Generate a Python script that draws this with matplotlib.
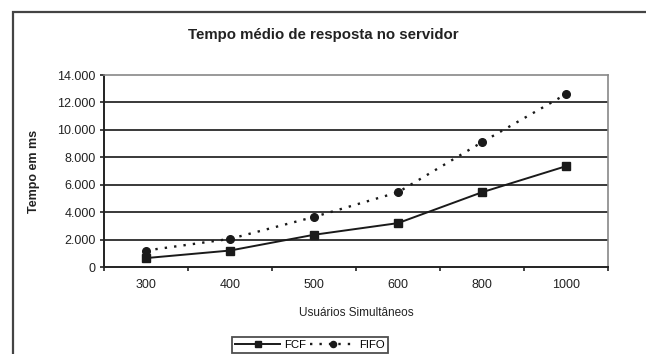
import matplotlib
matplotlib.use("Agg")
import matplotlib.pyplot as plt
from matplotlib.patches import Rectangle

plt.rcParams['font.family'] = ['Liberation Sans', 'DejaVu Sans']

categories = ["300", "400", "500", "600", "800", "1000"]
fcf = [650, 1200, 2350, 3200, 5450, 7350]
fifo = [1200, 2050, 3650, 5450, 9100, 12600]
yticks = [0, 2000, 4000, 6000, 8000, 10000, 12000, 14000]
ytick_labels = ["0", "2.000", "4.000", "6.000", "8.000", "10.000", "12.000", "14.000"]

W, H = 646, 354
fig = plt.figure(figsize=(W / 100, H / 100), dpi=100)
ax = fig.add_axes([104 / W, 1 - 267 / H, (608 - 104) / W, (267 - 75) / H])

x = list(range(len(categories)))
ax.plot(x, fcf, color='#1a1a1a', lw=1.4, marker='s', ms=5.5, label='FCF')
ax.plot(x, fifo, color='#1a1a1a', lw=1.7, ls=(0, (1, 3)), marker='o', ms=5.5, label='FIFO')

ax.set_xlim(-0.5, len(categories) - 0.5)
ax.set_ylim(0, 14000)
ax.set_yticks(yticks)
ax.set_yticklabels(ytick_labels, fontsize=9, color='#222222')
ax.set_xticks(x)
ax.set_xticklabels(categories, fontsize=9, color='#222222')
ax.tick_params(axis='x', length=0, pad=9)
ax.set_xticks([i + 0.5 for i in range(-1, len(categories))], minor=True)
ax.tick_params(axis='x', which='minor', length=3, width=1.2, color='#222222', direction='out')
ax.tick_params(axis='y', length=3, width=1.2, color='#222222', direction='out', pad=3)

for y in yticks[1:-1]:
    ax.axhline(y, color='#2a2a2a', lw=1.3, zorder=0)

for s in ['top', 'right']:
    ax.spines[s].set_color('#888888')
    ax.spines[s].set_linewidth(1.2)
for s in ['left', 'bottom']:
    ax.spines[s].set_color('#222222')
    ax.spines[s].set_linewidth(1.4)

ax.set_xlabel("Usuários Simultâneos", fontsize=8.5, color='#222222')
ax.xaxis.set_label_coords(0.5, -(307 - 267) / 192)
ax.set_ylabel("Tempo em ms", fontsize=9, fontweight='bold', color='#222222')
ax.yaxis.set_label_coords(-(104 - 40) / 504, 0.5)

fig.text(0.5, 1 - 35 / H, "Tempo médio de resposta no servidor", ha='center', va='center',
         fontsize=10.8, fontweight='bold', color='#222222')

fig.patches.append(Rectangle((13 / W, -0.1), 1.2, 1 - 12 / H + 0.1, transform=fig.transFigure,
                             fill=False, edgecolor='#444444', lw=1.6, figure=fig))

leg = fig.legend(loc='center', bbox_to_anchor=(310 / W, 1 - 345 / H), ncol=2, fontsize=8.2,
                 frameon=True, fancybox=False, edgecolor='#222222', handlelength=4.0,
                 handletextpad=0.3, columnspacing=0.4, borderpad=0.25, markerscale=0.8)
leg.get_frame().set_linewidth(1.3)

fig.savefig("out.png", dpi=100)
